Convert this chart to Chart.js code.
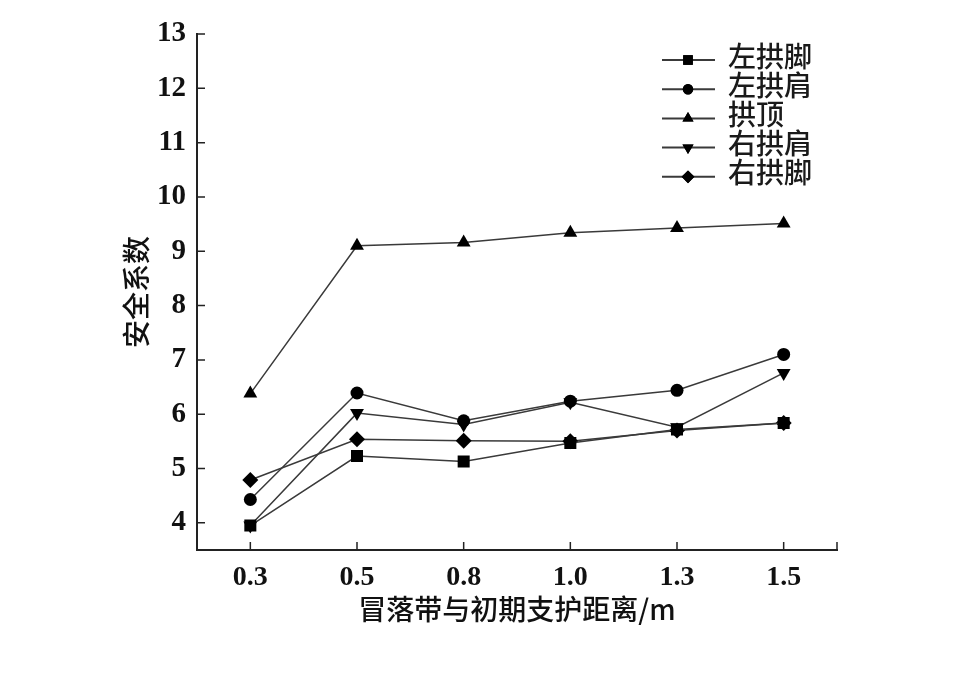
<!DOCTYPE html>
<html>
<head>
<meta charset="utf-8">
<script src="https://cdn.jsdelivr.net/npm/chart.js@4/dist/chart.umd.min.js"></script>
<style>
  body { margin: 0; background: #fff; }
  #wrap { width: 973px; height: 681px; position: relative; }
</style>
</head>
<body>
<div id="wrap"><canvas id="chartSafety"></canvas></div>
<script>
// distance labels (x axis)
const distances = ['0.3', '0.5', '0.8', '1.0', '1.3', '1.5'];
// y tick values
const yTickValues = [4, 5, 6, 7, 8, 9, 10, 11, 12, 13];

// safety factor per position
const leftFoot = [3.95, 5.23, 5.13, 5.47, 5.72, 5.84];
const leftShoulder = [4.43, 6.39, 5.88, 6.24, 6.44, 7.10];
const crown = [6.38, 9.10, 9.16, 9.34, 9.43, 9.51];
const rightShoulder = [3.95, 6.02, 5.81, 6.22, 5.76, 6.76];
const rightFoot = [4.79, 5.54, 5.51, 5.50, 5.70, 5.84];

const seriesNames = ['左拱脚', '左拱肩', '拱顶', '右拱肩', '右拱脚'];

const cjkFont = '"Noto Sans CJK SC", sans-serif';
const numFont = '"Liberation Serif", "Times New Roman", serif';
const lineColor = '#3a3a3a';

const makeSet = (label, data, style, radius, rotation = 0) => ({
    label: label,
    data: data,
    borderColor: lineColor,
    borderWidth: 1.5,
    backgroundColor: '#000',
    pointStyle: style,
    pointRadius: radius,
    pointRotation: rotation,
    pointBorderColor: '#000',
    pointBackgroundColor: '#000',
    pointBorderWidth: 0,
    tension: 0
});

const datasets = [
    makeSet(seriesNames[0], leftFoot, 'rect', 8.5),
    makeSet(seriesNames[1], leftShoulder, 'circle', 6.5),
    makeSet(seriesNames[2], crown, 'triangle', 8),
    makeSet(seriesNames[3], rightShoulder, 'triangle', 8, 180),
    makeSet(seriesNames[4], rightFoot, 'rectRot', 8)
];

// inward tick marks + legend with line and marker
const extras = {
    id: 'extras',
    afterDraw(chart) {
        const ctx = chart.ctx;
        const xs = chart.scales.x;
        const ys = chart.scales.y;
        ctx.save();
        ctx.strokeStyle = '#222';
        ctx.lineWidth = 1.5;
        ctx.beginPath();
        ys.ticks.forEach((t, i) => {
            const py = ys.getPixelForTick(i);
            ctx.moveTo(xs.left, py);
            ctx.lineTo(xs.left + 8, py);
        });
        xs.ticks.forEach((t, i) => {
            const px = xs.getPixelForTick(i);
            ctx.moveTo(px, ys.bottom);
            ctx.lineTo(px, ys.bottom - 8);
        });
        ctx.moveTo(xs.right, ys.bottom);
        ctx.lineTo(xs.right, ys.bottom - 8);
        ctx.stroke();

        chart.data.datasets.forEach((ds, i) => {
            const y = 60 + i * 29.2;
            ctx.strokeStyle = lineColor;
            ctx.lineWidth = 2;
            ctx.beginPath();
            ctx.moveTo(662, y);
            ctx.lineTo(715, y);
            ctx.stroke();
            ctx.fillStyle = '#000';
            Chart.helpers.drawPoint(ctx, {
                pointStyle: ds.pointStyle,
                radius: ds.pointRadius * 0.8,
                rotation: ds.pointRotation,
                borderWidth: 0
            }, 688, y);
            ctx.fill();
            ctx.font = '500 28px ' + cjkFont;
            ctx.textBaseline = 'middle';
            ctx.fillStyle = '#1a1a1a';
            ctx.fillText(ds.label, 728, y - 4);
        });
        ctx.restore();
    }
};

new Chart(document.getElementById('chartSafety'), {
    type: 'line',
    data: {
        labels: distances,
        datasets: datasets
    },
    options: {
        responsive: true,
        maintainAspectRatio: false,
        animation: false,
        layout: {
            padding: { left: 116, top: 34, right: 136, bottom: 51 }
        },
        plugins: {
            legend: { display: false },
            tooltip: { enabled: false }
        },
        scales: {
            x: {
                offset: true,
                grid: {
                    offset: false,
                    drawOnChartArea: false,
                    drawTicks: false
                },
                border: { color: '#222', width: 2 },
                ticks: {
                    color: '#111',
                    padding: 11,
                    font: { family: numFont, size: 28, weight: 'bold' }
                },
                title: {
                    display: true,
                    text: '冒落带与初期支护距离/m',
                    color: '#111',
                    font: { family: cjkFont, size: 28, weight: '500' },
                    padding: { top: 0, bottom: 4 }
                },
                afterFit(scale) { scale.height = 80; }
            },
            y: {
                min: 3.5,
                max: 13,
                grid: {
                    drawOnChartArea: false,
                    drawTicks: false
                },
                border: { color: '#222', width: 2 },
                ticks: {
                    color: '#111',
                    padding: 11,
                    font: { family: numFont, size: 29, weight: 'bold' }
                },
                afterBuildTicks(axis) {
                    axis.ticks = yTickValues.map(v => ({ value: v }));
                },
                title: {
                    display: true,
                    text: '安全系数',
                    color: '#111',
                    font: { family: cjkFont, size: 28, weight: '500' },
                    padding: { top: 4, bottom: 0 }
                },
                afterFit(scale) { scale.width = 81; }
            }
        }
    },
    plugins: [extras]
});
</script>
</body>
</html>
